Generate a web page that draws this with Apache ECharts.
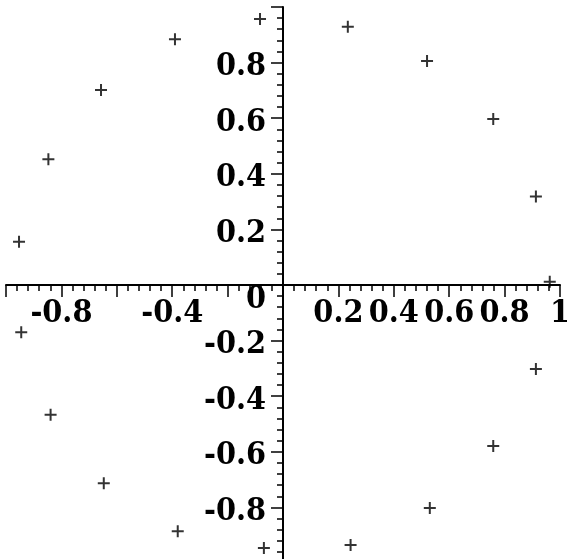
<!DOCTYPE html>
<html>
<head>
<meta charset="utf-8">
<script src="https://cdn.jsdelivr.net/npm/echarts@6/dist/echarts.min.js"></script>
<style>
  html, body { margin: 0; padding: 0; background: #fff; }
  #chart { width: 567px; height: 559px; }
</style>
</head>
<body>
<div id="chart"></div>
<script>
// point coordinates
const xs = [0.963, 0.913, 0.759, 0.520, 0.234, -0.083, -0.390, -0.657, -0.847, -0.953,
  -0.945, -0.839, -0.647, -0.380, -0.069, 0.244, 0.530, 0.759, 0.913];
const ys = [0.012, 0.318, 0.597, 0.806, 0.929, 0.957, 0.884, 0.701, 0.452, 0.156,
  -0.170, -0.467, -0.713, -0.886, -0.946, -0.935, -0.802, -0.579, -0.302];

// tick labels that are actually printed
const xLabels = ['-0.8', '-0.4', '0.2', '0.4', '0.6', '0.8', '1'];
const yLabels = ['-0.8', '-0.6', '-0.4', '-0.2', '0', '0.2', '0.4', '0.6', '0.8'];

const fmt = (v) => parseFloat(v.toFixed(2)).toString();

const labelFont = {
  fontFamily: '"DejaVu Serif Condensed", "DejaVu Serif", serif',
  fontWeight: 'bold',
  fontSize: 32,
  color: '#000',
};

// plot box: x in [-1,1] over 554px, y in [-1,1] over 556px
const gridLeft = 6, gridTop = 7, gridW = 554, gridH = 556;

const chart = echarts.init(document.getElementById('chart'));

chart.setOption({
  animation: false,
  backgroundColor: '#fff',
  grid: {
    left: gridLeft, top: gridTop, width: gridW, height: gridH,
    containLabel: false,
    outerBoundsMode: 'none',
  },
  xAxis: {
    type: 'value',
    min: -1,
    max: 1,
    interval: 0.2,
    // pull the axis up from the grid bottom to y = 0
    offset: -gridH / 2,
    axisLine: { onZero: false, lineStyle: { color: '#000', width: 2 } },
    axisTick: { show: true, length: 12, lineStyle: { color: '#000', width: 1.5 } },
    minorTick: { show: true, splitNumber: 5, length: 6, lineStyle: { color: '#000', width: 1.5 } },
    splitLine: { show: false },
    axisLabel: Object.assign({}, labelFont, {
      margin: 13,
      hideOverlap: false,
      formatter: (v) => (xLabels.includes(fmt(v)) ? fmt(v) : ''),
    }),
  },
  yAxis: {
    type: 'value',
    min: -1,
    max: 1,
    interval: 0.2,
    offset: -gridW / 2,
    axisLine: { onZero: false, lineStyle: { color: '#000', width: 2 } },
    axisTick: { show: true, length: 12, lineStyle: { color: '#000', width: 1.5 } },
    minorTick: { show: true, splitNumber: 5, length: 6, lineStyle: { color: '#000', width: 1.5 } },
    splitLine: { show: false },
    axisLabel: Object.assign({}, labelFont, {
      margin: 17,
      hideOverlap: false,
      padding: [8, 0, 0, 0],
      formatter: (v) => {
        const s = fmt(v);
        if (!yLabels.includes(s)) return '';
        return s === '0' ? '{z|0}' : s;
      },
      rich: {
        z: Object.assign({}, labelFont, { padding: [22, 0, 0, 0] }),
      },
    }),
  },
  series: [
    {
      type: 'scatter',
      data: xs.map((x, i) => [x, ys[i]]),
      symbol: 'path://M5,0H7V5H12V7H7V12H5V7H0V5H5Z',
      symbolSize: 12,
      itemStyle: { color: '#000' },
      silent: true,
    },
  ],
});
</script>
</body>
</html>
